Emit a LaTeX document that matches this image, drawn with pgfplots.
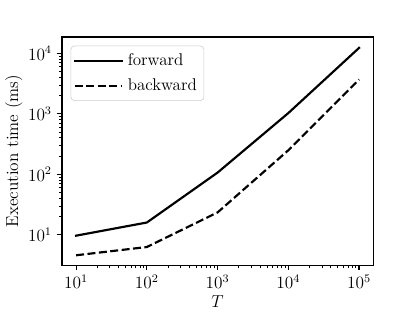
\documentclass[border=0pt]{standalone}
\usepackage{pgfplots}
\pgfplotsset{compat=1.18}
\begin{document}
\begin{tikzpicture}
\useasboundingbox (0,0) rectangle (288pt,216pt);
\begin{axis}[
  at={(43pt,32pt)}, anchor=south west,
  scale only axis, width=216pt, height=158.3pt,
  xmode=log, ymode=log,
  xmin=6.31, xmax=158489, ymin=3.16, ymax=18600,
  xtick={10,100,1000,10000,100000},
  ytick={10,100,1000,10000},
  tick pos=left,
  tick align=outside,
  major tick length=3.5pt, minor tick length=2pt,
  every major tick/.style={black, line width=0.8pt},
  every minor tick/.style={black, line width=0.6pt},
  axis line style={line width=0.8pt},
  tick label style={font=\fontsize{12}{14}\selectfont},
  label style={font=\fontsize{12}{14}\selectfont},
  xlabel={$T$}, ylabel={Execution time (ms)},
  xlabel style={yshift=2pt},
  ylabel shift=-3pt,
  legend cell align=left,
  legend style={at={(0,1)}, anchor=north west, xshift=6pt, yshift=-6pt,
    draw=black!20, rounded corners=2.5pt, fill=white, fill opacity=0.8, text opacity=1,
    font=\fontsize{11.8}{14}\selectfont, row sep=3.8pt, inner xsep=2pt, inner ysep=3.3pt,
    nodes={inner xsep=3pt}},
  legend image code/.code={\draw[#1] (0pt,0pt) -- (26pt,0pt); \path (0pt,0pt) -- (33pt,0pt);},
]
\addplot[black, line width=1.5pt, line cap=rect, line join=round] coordinates {(10,9.7) (100,16) (1000,107) (10000,1030) (100000,12300)};
\addlegendentry{forward}
\addplot[black, line width=1.5pt, line join=round, dash pattern=on 5.55pt off 2.4pt] coordinates {(10,4.6) (100,6.3) (1000,23.5) (10000,250) (100000,3700)};
\addlegendentry{backward}
\end{axis}
\end{tikzpicture}
\end{document}
